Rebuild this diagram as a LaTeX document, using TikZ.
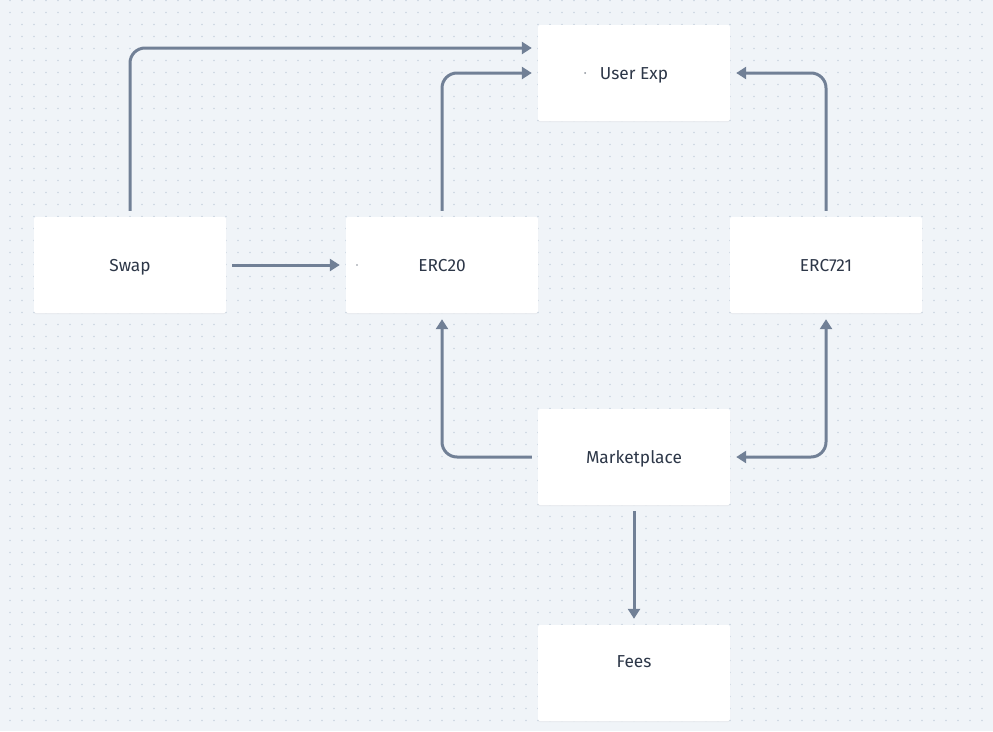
\documentclass[tikz,border=0pt]{standalone}
\usepackage{fontspec}
\setmainfont{Fira Sans}
\usetikzlibrary{arrows.meta,shadows}

\definecolor{bgc}{HTML}{F0F4F8}
\definecolor{dotc}{HTML}{CBD5E0}
\definecolor{linec}{HTML}{718096}
\definecolor{textc}{HTML}{2D3748}

\tikzset{
  box/.style={fill=white, minimum width=192pt, minimum height=96pt, inner sep=0pt,
    rounded corners=2pt, text=textc, font=\fontsize{17.3}{20}\selectfont,
    text height=12pt, text depth=0pt,
    drop shadow={shadow xshift=0pt, shadow yshift=-1pt, opacity=0.08}},
  link/.style={draw=linec, line width=3pt, rounded corners=15pt,
    shorten <=6pt, shorten >=6pt, -{Triangle[length=10pt,width=12pt]}}
}

\begin{document}
\begin{tikzpicture}[x=1pt,y=-1pt]

    % 背景和点阵
    \useasboundingbox (0,0) rectangle (993,731);
    \fill[bgc] (0,0) rectangle (993,731);
    \foreach \y in {0.5,12.5,...,730} {
      \fill[dotc] \foreach \x in {10,22,...,990} {(\x,\y) circle (0.9)};
    }

    % 方框
    \node[box] (user) at (634,73) {User Exp};
    \node[box] (swap) at (130,265) {Swap};
    \node[box] (erc) at (442,265) {ERC20};
    \node[box] (nft) at (826,265) {ERC721};
    \node[box] (market) at (634,457) {Marketplace};
    \node[box, text depth=24pt] (fees) at (634,673) {Fees};

    % 小点
    \fill[textc!55] (585,73) circle (1);
    \fill[textc!55] (357,265) circle (0.8);

    % 连线
    \draw[link] (swap.north) |- ([yshift=25pt]user.west);
    \draw[link] (erc.north) |- (user.west);
    \draw[link] (nft.north) |- (user.east);
    \draw[link] (swap) -- (erc);
    \draw[link] (market.west) -| (erc.south);
    \draw[link, {Triangle[length=10pt,width=12pt]}-{Triangle[length=10pt,width=12pt]}] (market.east) -| (nft.south);
    \draw[link] (market) -- (fees);

  \end{tikzpicture}
\end{document}
